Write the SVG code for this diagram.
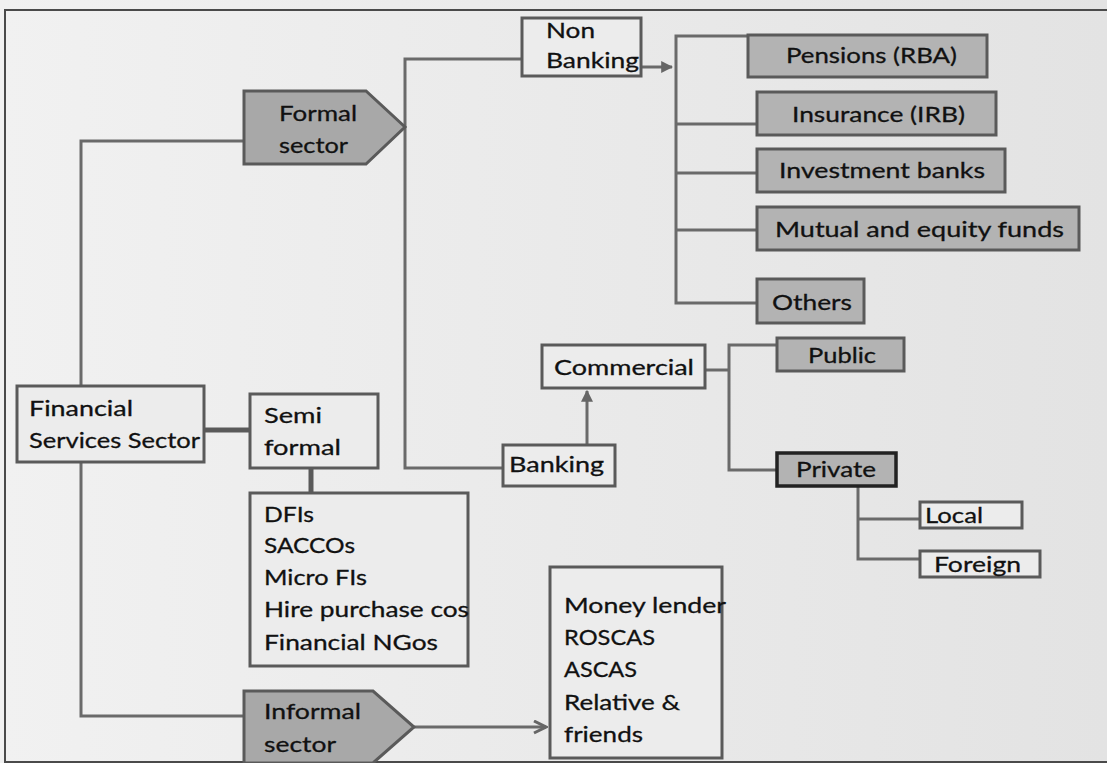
<svg xmlns="http://www.w3.org/2000/svg" width="1107" height="763" viewBox="0 0 1107 763">
<defs>
<linearGradient id="bg" x1="0" y1="0" x2="1" y2="0">
<stop offset="0" stop-color="#f1f1f1"/>
<stop offset="1" stop-color="#e3e3e3"/>
</linearGradient>
<marker id="arr" viewBox="0 0 10 10" refX="9" refY="5" markerWidth="4" markerHeight="4" orient="auto" markerUnits="strokeWidth">
<path d="M0,0 L10,5 L0,10 z" fill="#666"/>
</marker>
<marker id="chev" viewBox="0 0 10 10" refX="9" refY="5" markerWidth="5" markerHeight="5" orient="auto" markerUnits="strokeWidth">
<path d="M1,1 L9,5 L1,9" fill="none" stroke="#666" stroke-width="2"/>
</marker>
</defs>
<style>
.box{fill:#ececec;stroke:#5a5a5a;stroke-width:3}
.gbox{fill:#b3b3b3;stroke:#5a5a5a;stroke-width:3}
.pent{fill:#a8a8a8;stroke:#5a5a5a;stroke-width:3}
.ln{fill:none;stroke:#6a6a6a;stroke-width:3}
.thick{fill:none;stroke:#5a5a5a;stroke-width:5}
text{font-family:Lato,"Open Sans",sans-serif;font-size:22px;fill:#111;stroke:#111;stroke-width:0.3}
</style>
<rect x="0" y="0" width="1107" height="763" fill="url(#bg)"/>
<path d="M1107,10 H5 V762 H1107" fill="none" stroke="#4a4a4a" stroke-width="2"/>

<g id="connectors">
<path class="ln" d="M81,386 V141 H244"/>
<path class="ln" d="M81,462 V716 H244"/>
<path class="ln" d="M522,59 H405 V468 H503"/>
<path class="ln" d="M641,67 H672" marker-end="url(#arr)"/>
<path class="ln" d="M748,36 H676 V303 H757"/>
<path class="ln" d="M676,124 H757"/>
<path class="ln" d="M676,173 H757"/>
<path class="ln" d="M676,230 H757"/>
<path class="thick" d="M204,430 H250"/>
<path class="thick" d="M311,468 V493"/>
<path class="ln" d="M414,727 H546" marker-end="url(#chev)"/>
<path class="ln" d="M587,445 V391" marker-end="url(#arr)"/>
<path class="ln" d="M705,370 H729"/>
<path class="ln" d="M777,345 H729 V470 H777"/>
<path class="ln" d="M858,486 V559 H920"/>
<path class="ln" d="M858,519 H920"/>
</g>

<g id="formal-sector">
<polygon class="pent" points="244,91 366,91 405,127 366,164 244,164"/>
<text x="279" y="121" textLength="78" lengthAdjust="spacingAndGlyphs">Formal</text>
<text x="279" y="153" textLength="69" lengthAdjust="spacingAndGlyphs">sector</text>
</g>

<g id="non-banking">
<rect class="box" x="522" y="18" width="119" height="58"/>
<text x="546" y="38" textLength="49" lengthAdjust="spacingAndGlyphs">Non</text>
<text x="546" y="68" textLength="93" lengthAdjust="spacingAndGlyphs">Banking</text>
</g>

<g id="pensions">
<rect class="gbox" x="748" y="35" width="239" height="42"/>
<text x="786" y="63" textLength="171" lengthAdjust="spacingAndGlyphs">Pensions (RBA)</text>
</g>
<g id="insurance">
<rect class="gbox" x="757" y="92" width="239" height="43"/>
<text x="792" y="122" textLength="173" lengthAdjust="spacingAndGlyphs">Insurance (IRB)</text>
</g>
<g id="investment-banks">
<rect class="gbox" x="757" y="149" width="248" height="43"/>
<text x="779" y="178" textLength="206" lengthAdjust="spacingAndGlyphs">Investment banks</text>
</g>
<g id="mutual-funds">
<rect class="gbox" x="757" y="207" width="322" height="43"/>
<text x="775" y="237" textLength="289" lengthAdjust="spacingAndGlyphs">Mutual and equity funds</text>
</g>
<g id="others">
<rect class="gbox" x="757" y="279" width="107" height="44"/>
<text x="772" y="310" textLength="80" lengthAdjust="spacingAndGlyphs">Others</text>
</g>

<g id="financial-services-sector">
<rect class="box" x="17" y="386" width="187" height="76"/>
<text x="29" y="416" textLength="104" lengthAdjust="spacingAndGlyphs">Financial</text>
<text x="29" y="448" textLength="171" lengthAdjust="spacingAndGlyphs">Services Sector</text>
</g>

<g id="semi-formal">
<rect class="box" x="250" y="394" width="128" height="74"/>
<text x="264" y="423" textLength="58" lengthAdjust="spacingAndGlyphs">Semi</text>
<text x="264" y="455" textLength="77" lengthAdjust="spacingAndGlyphs">formal</text>
</g>

<g id="semi-formal-list">
<rect class="box" x="250" y="493" width="218" height="173"/>
<text x="264" y="522" textLength="50" lengthAdjust="spacingAndGlyphs">DFIs</text>
<text x="264" y="553" textLength="91" lengthAdjust="spacingAndGlyphs">SACCOs</text>
<text x="264" y="585" textLength="103" lengthAdjust="spacingAndGlyphs">Micro FIs</text>
<text x="264" y="617" textLength="205" lengthAdjust="spacingAndGlyphs">Hire purchase cos</text>
<text x="264" y="650" textLength="174" lengthAdjust="spacingAndGlyphs">Financial NGos</text>
</g>

<g id="informal-sector">
<polygon class="pent" points="244,691 373,691 414,727 373,763 244,763"/>
<text x="264" y="719" textLength="97" lengthAdjust="spacingAndGlyphs">Informal</text>
<text x="264" y="752" textLength="72" lengthAdjust="spacingAndGlyphs">sector</text>
</g>

<g id="banking">
<rect class="box" x="503" y="445" width="112" height="41"/>
<text x="509" y="472" textLength="95" lengthAdjust="spacingAndGlyphs">Banking</text>
</g>

<g id="commercial">
<rect class="box" x="542" y="345" width="163" height="43"/>
<text x="554" y="375" textLength="140" lengthAdjust="spacingAndGlyphs">Commercial</text>
</g>

<g id="public">
<rect class="gbox" x="777" y="338" width="127" height="33"/>
<text x="808" y="363" textLength="68" lengthAdjust="spacingAndGlyphs">Public</text>
</g>

<g id="private">
<rect class="gbox" x="777" y="453" width="119" height="33" style="stroke:#222;stroke-width:3.5"/>
<text x="796" y="477" textLength="80" lengthAdjust="spacingAndGlyphs">Private</text>
</g>

<g id="local">
<rect class="box" x="920" y="502" width="102" height="26"/>
<text x="925" y="523" textLength="58" lengthAdjust="spacingAndGlyphs">Local</text>
</g>

<g id="foreign">
<rect class="box" x="920" y="551" width="120" height="26"/>
<text x="934" y="572" textLength="87" lengthAdjust="spacingAndGlyphs">Foreign</text>
</g>

<g id="informal-list">
<rect class="box" x="550" y="567" width="172" height="191"/>
<text x="564" y="613" textLength="162" lengthAdjust="spacingAndGlyphs">Money lender</text>
<text x="564" y="645" textLength="91" lengthAdjust="spacingAndGlyphs">ROSCAS</text>
<text x="564" y="677" textLength="73" lengthAdjust="spacingAndGlyphs">ASCAS</text>
<text x="564" y="710" textLength="116" lengthAdjust="spacingAndGlyphs">Relative &amp;</text>
<text x="564" y="742" textLength="79" lengthAdjust="spacingAndGlyphs">friends</text>
</g>
</svg>
